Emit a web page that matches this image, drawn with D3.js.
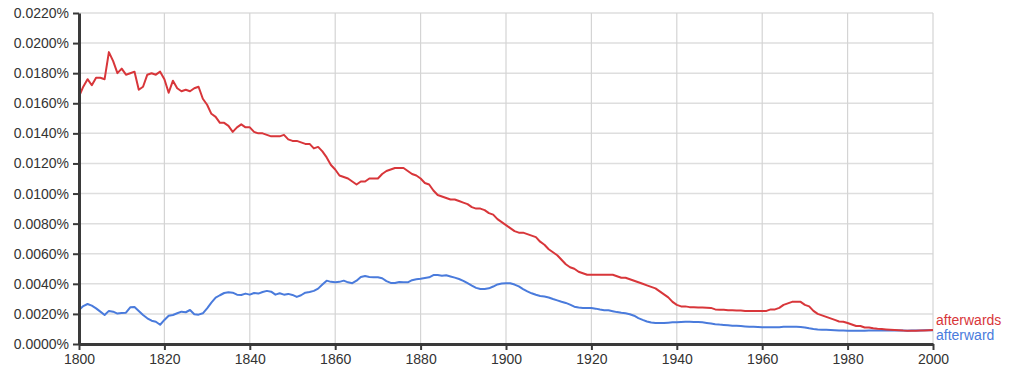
<!DOCTYPE html>
<html>
<head>
<meta charset="utf-8">
<script src="https://cdn.jsdelivr.net/npm/d3@7"></script>
<style>
    body { margin: 0; background: #fff; }
    svg text { font-family: "Liberation Sans", Arial, Helvetica, sans-serif; font-size: 14px; fill: #333; }
</style>
</head>
<body>
<div id="chart"></div>
<script>
// Years 1800..2000, one value per year (percent)
var years = d3.range(1800, 2001);

var afterwards = [
    0.01645, 0.0171, 0.0176, 0.0172, 0.0177, 0.0177, 0.0176, 0.0194, 0.0188, 0.0180,
    0.0183, 0.0179, 0.0180, 0.0181, 0.0169, 0.0171, 0.0179, 0.0180, 0.0179, 0.0181,
    0.0176, 0.0167, 0.0175, 0.0170, 0.0168, 0.0169, 0.0168, 0.0170, 0.0171, 0.0163,
    0.0159, 0.0153, 0.0151, 0.0147, 0.0147, 0.0145, 0.0141, 0.0144, 0.0146, 0.0144,
    0.0144, 0.0141, 0.0140, 0.0140, 0.0139, 0.0138, 0.0138, 0.0138, 0.0139, 0.0136,
    0.0135, 0.0135, 0.0134, 0.0133, 0.0133, 0.0130, 0.0131, 0.0128, 0.0124, 0.0119,
    0.0116, 0.0112, 0.0111, 0.0110, 0.0108, 0.0106, 0.0108, 0.0108, 0.0110, 0.0110,
    0.0110, 0.0113, 0.0115, 0.0116, 0.0117, 0.0117, 0.0117, 0.0115, 0.0113, 0.0112,
    0.0110, 0.0107, 0.0106, 0.0102, 0.0099, 0.0098, 0.0097, 0.0096, 0.0096, 0.0095,
    0.0094, 0.0093, 0.0091, 0.0090, 0.0090, 0.0089, 0.0087, 0.0086, 0.0083, 0.0081,
    0.0079, 0.0077, 0.0075, 0.0074, 0.0074, 0.0073, 0.0072, 0.0071, 0.0068, 0.0066,
    0.0063, 0.0061, 0.0059, 0.0056, 0.0053, 0.0051, 0.0050, 0.0048, 0.0047, 0.0046,
    0.0046, 0.0046, 0.0046, 0.0046, 0.0046, 0.0046, 0.0045, 0.0044, 0.0044, 0.0043,
    0.0042, 0.0041, 0.0040, 0.0039, 0.0038, 0.0037, 0.0035, 0.0033, 0.0031, 0.0028,
    0.0026, 0.0025, 0.0025, 0.00245, 0.00244, 0.00243, 0.00242, 0.00241, 0.0024, 0.0023,
    0.00228, 0.00227, 0.00225, 0.00224, 0.00223, 0.00222, 0.0022, 0.0022, 0.0022, 0.0022,
    0.0022, 0.0022, 0.0023, 0.0023, 0.0024, 0.0026, 0.0027, 0.0028, 0.0028, 0.0028,
    0.0026, 0.0025, 0.0022, 0.0020, 0.0019, 0.0018, 0.0017, 0.0016, 0.0015, 0.00148,
    0.0014, 0.0013, 0.0012, 0.0012, 0.0011, 0.0011, 0.00104, 0.00101, 0.00099, 0.00097,
    0.00095, 0.00093, 0.00091, 0.00089, 0.00088, 0.00088, 0.00088, 0.00089, 0.0009, 0.00092,
    0.00093
];

var afterward = [
    0.00226, 0.00252, 0.00266, 0.00255, 0.00237, 0.00215, 0.00193, 0.0022, 0.00215, 0.00202,
    0.00206, 0.00208, 0.00244, 0.00246, 0.0022, 0.00193, 0.00171, 0.00155, 0.00148, 0.00128,
    0.0016, 0.00188, 0.00193, 0.00204, 0.00215, 0.00211, 0.00226, 0.00198, 0.00195, 0.00204,
    0.00237, 0.00275, 0.00308, 0.00324, 0.00339, 0.00344, 0.00341, 0.00328, 0.00326, 0.00335,
    0.00328, 0.00339, 0.00335, 0.00346, 0.00353, 0.00348, 0.00328, 0.00337, 0.00328, 0.00333,
    0.00326, 0.00313, 0.00324, 0.00341, 0.00346, 0.00353, 0.00368, 0.00395, 0.00421, 0.00413,
    0.0041, 0.00413, 0.00421, 0.0041, 0.00404, 0.00421, 0.00446, 0.00452, 0.00446, 0.00444,
    0.00443, 0.00437, 0.00418, 0.00406, 0.00405, 0.00412, 0.00411, 0.0041, 0.00424, 0.0043,
    0.00434, 0.00439, 0.00443, 0.00458, 0.00458, 0.00454, 0.00457, 0.00449, 0.00441, 0.00432,
    0.0042, 0.00404, 0.00388, 0.00373, 0.00365, 0.00365, 0.0037, 0.00382, 0.00396, 0.00402,
    0.00404, 0.00404, 0.00395, 0.00383, 0.00365, 0.0035, 0.00337, 0.00327, 0.00319, 0.00316,
    0.00309, 0.00299, 0.0029, 0.00281, 0.00273, 0.00262, 0.00248, 0.00242, 0.0024, 0.0024,
    0.0024, 0.00235, 0.00229, 0.00225, 0.00224, 0.00218, 0.00212, 0.00207, 0.00204, 0.00198,
    0.00188, 0.00172, 0.0016, 0.0015, 0.00143, 0.00139, 0.00139, 0.0014, 0.00142, 0.00144,
    0.00145, 0.00147, 0.00148, 0.00148, 0.00147, 0.00147, 0.00144, 0.0014, 0.00136, 0.00132,
    0.00129, 0.00127, 0.00125, 0.00122, 0.00121, 0.00119, 0.00117, 0.00115, 0.00114, 0.00113,
    0.00112, 0.00111, 0.00111, 0.00111, 0.00112, 0.00114, 0.00115, 0.00115, 0.00114, 0.00113,
    0.0011, 0.00104, 0.001, 0.00097, 0.00095, 0.00094, 0.00093, 0.00092, 0.0009, 0.00089,
    0.00088, 0.00088, 0.00088, 0.00088, 0.00088, 0.00089, 0.0009, 0.0009, 0.0009, 0.00091,
    0.0009, 0.0009, 0.00089, 0.00089, 0.00088, 0.00089, 0.0009, 0.0009, 0.00091, 0.00091,
    0.00091
];

var seriesNames = ["afterwards", "afterward"];
var seriesColors = ["#d8363a", "#4a7bdc"];
var yTicks = d3.range(0, 0.02201, 0.002);
var xTicks = d3.range(1800, 2001, 20);

var width = 1019, height = 378;
var margin = { top: 13, right: 86, bottom: 34, left: 79 };

var svg = d3.select("#chart").append("svg")
    .attr("width", width)
    .attr("height", height);

var xScale = d3.scaleLinear()
    .domain([1800, 2000])
    .range([margin.left, width - margin.right]);

var yScale = d3.scaleLinear()
    .domain([0, 0.022])
    .range([height - margin.bottom, margin.top]);

// Grid
svg.append("g").attr("class", "grid")
    .selectAll("line.h").data(yTicks).enter().append("line")
    .attr("x1", margin.left).attr("x2", width - margin.right)
    .attr("y1", function (d) { return yScale(d); })
    .attr("y2", function (d) { return yScale(d); })
    .attr("stroke", "#dedede").attr("stroke-width", 1.5);

svg.append("g").attr("class", "grid")
    .selectAll("line.v").data(xTicks).enter().append("line")
    .attr("x1", function (d) { return xScale(d); })
    .attr("x2", function (d) { return xScale(d); })
    .attr("y1", margin.top).attr("y2", height - margin.bottom)
    .attr("stroke", "#d4d4d4").attr("stroke-width", 1.2);

// Lines
var allSeries = [afterwards, afterward];
var lineFunc = d3.line()
    .x(function (d, i) { return xScale(years[i]); })
    .y(function (d) { return yScale(d); });

// draw blue first so red sits on top
[1, 0].forEach(function (k) {
    svg.append("path")
        .attr("d", lineFunc(allSeries[k]))
        .attr("fill", "none")
        .attr("stroke", seriesColors[k])
        .attr("stroke-width", 2)
        .attr("stroke-linejoin", "round");
});

// Axes
var yAxisGen = d3.axisLeft(yScale)
    .tickValues(yTicks)
    .tickFormat(function (d) { return d.toFixed(4) + "%"; })
    .tickSize(6).tickSizeOuter(0).tickPadding(4);

var xAxisGen = d3.axisBottom(xScale)
    .tickValues(xTicks)
    .tickFormat(d3.format("d"))
    .tickSize(6).tickSizeOuter(0).tickPadding(4);

var yAxis = svg.append("g")
    .attr("class", "y axis")
    .attr("transform", "translate(" + margin.left + ",0)")
    .call(yAxisGen);

var xAxis = svg.append("g")
    .attr("class", "x axis")
    .attr("transform", "translate(0," + (height - margin.bottom) + ")")
    .call(xAxisGen);

[yAxis, xAxis].forEach(function (ax) {
    ax.select(".domain").attr("stroke", "#3a3a3a").attr("stroke-width", 3);
    ax.selectAll(".tick line").attr("stroke", "#3a3a3a").attr("stroke-width", 2);
    ax.selectAll(".tick text")
        .attr("fill", "#333")
        .style("font-size", "14px")
        .style("font-family", '"Liberation Sans", Arial, sans-serif');
});

// Series labels at the right end, pushed apart so they don't overlap
var endY = allSeries.map(function (s) { return yScale(s[s.length - 1]); });
var mid = d3.mean(endY) - 2.5;
var labelY = [mid - 7.5, mid + 7.5];

seriesNames.forEach(function (name, i) {
    svg.append("text")
        .attr("x", xScale(2000) + 3)
        .attr("y", labelY[i])
        .attr("dy", "0.35em")
        .attr("fill", seriesColors[i])
        .style("fill", seriesColors[i])
        .text(name);
});
</script>
</body>
</html>
